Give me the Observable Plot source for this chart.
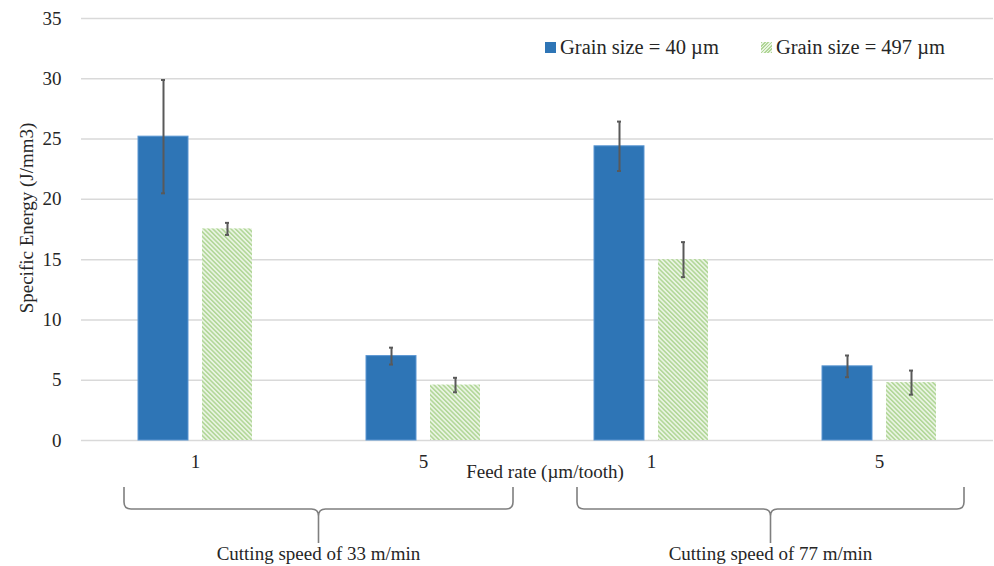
<!DOCTYPE html>
<html>
<head>
<meta charset="utf-8">
<script src="https://cdn.jsdelivr.net/npm/d3@7"></script>
<script src="https://cdn.jsdelivr.net/npm/@observablehq/plot@0.6"></script>
<style>
  html, body { margin: 0; padding: 0; background: #fff; overflow: hidden; }
  #wrap { position: relative; width: 994px; height: 566px; }
  #chart svg { display: block; }
  #legend { position: absolute; top: 36px; left: 545px; font-family: "Liberation Serif", serif; font-size: 20.5px; color: #262626; display: flex; align-items: center; }
  #legend .item { display: flex; align-items: center; margin-right: 42px; }
  #legend .sw { width: 11px; height: 11px; margin-right: 4px; }
</style>
</head>
<body>
<div id="wrap">
  <div id="chart"></div>
  <div id="legend"></div>
</div>
<script>
// ---- data ----
const cuttingSpeeds = ["33", "33", "77", "77"];
const feedRates = ["1", "5", "1", "5"];
const grainSizes = ["40", "497"];
const grain40 = [25.2, 7.0, 24.4, 6.15];
const grain40Err = [4.7, 0.7, 2.05, 0.9];
const grain497 = [17.55, 4.6, 15.0, 4.8];
const grain497Err = [0.5, 0.6, 1.45, 1.0];
const yTicks = [0, 5, 10, 15, 20, 25, 30, 35];
const speedLabels = ["Cutting speed of 33 m/min", "Cutting speed of 77 m/min"];
const legendLabels = ["Grain size = 40 µm", "Grain size = 497 µm"];

const groups = cuttingSpeeds.map((s, i) => `${s}|${feedRates[i]}`);
const rows = [];
groups.forEach((g, i) => {
  rows.push({group: g, grain: "40", value: grain40[i], err: grain40Err[i]});
  rows.push({group: g, grain: "497", value: grain497[i], err: grain497Err[i]});
});

const BLUE = "#2e75b6";
const HATCH = "url(#hatch)";
const TEXT = "#262626";
const font = "'Liberation Serif', 'Times New Roman', serif";

const plot = Plot.plot({
  width: 994,
  height: 566,
  marginLeft: 80,
  marginRight: 0,
  marginTop: 18,
  marginBottom: 126,
  style: {fontFamily: font, fontSize: "19px", color: TEXT, background: "white", overflow: "visible"},
  fx: {domain: groups, padding: 0, axis: null},
  x: {domain: grainSizes, paddingInner: 0.2154, paddingOuter: 0.867, axis: null},
  y: {domain: [0, 35], axis: null},
  marks: [
    Plot.gridY(yTicks, {stroke: "#d9d9d9", strokeOpacity: 1, strokeWidth: 1.5}),
    Plot.axisY(yTicks, {tickSize: 0, tickPadding: 20, label: null, fill: TEXT}),
    Plot.axisFx({anchor: "bottom", tickSize: 0, tickPadding: 14, tickFormat: d => d.split("|")[1], label: null, fill: TEXT}),
    Plot.barY(rows.filter(d => d.grain === "40"), {fx: "group", x: "grain", y: "value", fill: BLUE, stroke: "#5a96d2", strokeWidth: 1}),
    Plot.barY(rows.filter(d => d.grain === "497"), {fx: "group", x: "grain", y: "value", fill: HATCH}),
    Plot.ruleX(rows, {fx: "group", x: "grain", y1: d => d.value - d.err, y2: d => d.value + d.err, stroke: "#595959", strokeWidth: 2}),
    Plot.tickY(rows, {fx: "group", x: "grain", y: d => d.value + d.err, stroke: "#595959", strokeWidth: 2, insetLeft: 23, insetRight: 23}),
    Plot.tickY(rows, {fx: "group", x: "grain", y: d => d.value - d.err, stroke: "#595959", strokeWidth: 2, insetLeft: 23, insetRight: 23})
  ]
});

const svg = d3.select(plot);

// hatch pattern
const defs = svg.insert("defs", ":first-child");
const pat = defs.append("pattern")
  .attr("id", "hatch").attr("patternUnits", "userSpaceOnUse")
  .attr("width", 3.2).attr("height", 3.2)
  .attr("patternTransform", "rotate(-45)");
pat.append("rect").attr("width", 3.2).attr("height", 3.2).attr("fill", "#e9f4e2");
pat.append("rect").attr("width", 1.5).attr("height", 3.2).attr("fill", "#b0d696");

// axis titles, placed from the scales' frame
const yS = plot.scale("y");
const fx = plot.scale("fx");
const bw = fx.bandwidth;
const fxPos = g => fx.apply(g);
const frameLeft = fxPos(groups[0]);
const frameRight = fxPos(groups[groups.length - 1]) + bw;
const yMidFrame = (yS.apply(0) + yS.apply(35)) / 2;
const yBase = yS.apply(0);

const titles = svg.append("g").attr("font-family", font).attr("font-size", 19).attr("fill", TEXT).attr("text-anchor", "middle");
titles.append("text")
  .attr("transform", `translate(${frameLeft - 55},${yMidFrame - 11}) rotate(-90)`)
  .attr("dy", "0.35em")
  .text("Specific Energy (J/mm3)");
titles.append("text")
  .attr("x", (frameLeft + frameRight) / 2 + 8)
  .attr("y", yBase + 31)
  .attr("dy", "0.35em")
  .text("Feed rate (µm/tooth)");

// braces for cutting speeds, from the fx scale
const yTop = 487, yMid = 509, yTip = 543, r = 7;
const braceG = svg.append("g").attr("fill", "none").attr("stroke", "#7f7f7f").attr("stroke-width", 1.6);
[0, 1].forEach(k => {
  const gA = groups[k * 2], gB = groups[k * 2 + 1];
  const x0 = fxPos(gA) + 43 + (k === 1 ? -3 : 0);
  const x1 = fxPos(gB) + bw - 24 - (k === 1 ? 5 : 0);
  const xm = (x0 + x1) / 2;
  const p = `M${x0},${yTop} L${x0},${yMid - r} Q${x0},${yMid} ${x0 + r},${yMid} L${xm - r},${yMid} Q${xm},${yMid} ${xm},${yMid + r} L${xm},${yTip} M${xm},${yMid + r} Q${xm},${yMid} ${xm + r},${yMid} L${x1 - r},${yMid} Q${x1},${yMid} ${x1},${yMid - r} L${x1},${yTop}`;
  braceG.append("path").attr("d", p);
  titles.append("text").attr("x", xm).attr("y", 553).attr("dy", "0.35em").text(speedLabels[k]);
});

document.getElementById("chart").appendChild(plot);

// legend
const legend = d3.select("#legend");
[BLUE, null].forEach((c, i) => {
  const it = legend.append("div").attr("class", "item");
  const sw = it.append("div").attr("class", "sw");
  if (c) sw.style("background", c);
  else sw.style("background", "repeating-linear-gradient(-45deg, #b0d696 0 1.2px, #e9f4e2 1.2px 2.4px)");
  it.append("span").text(legendLabels[i]);
});
</script>
</body>
</html>
